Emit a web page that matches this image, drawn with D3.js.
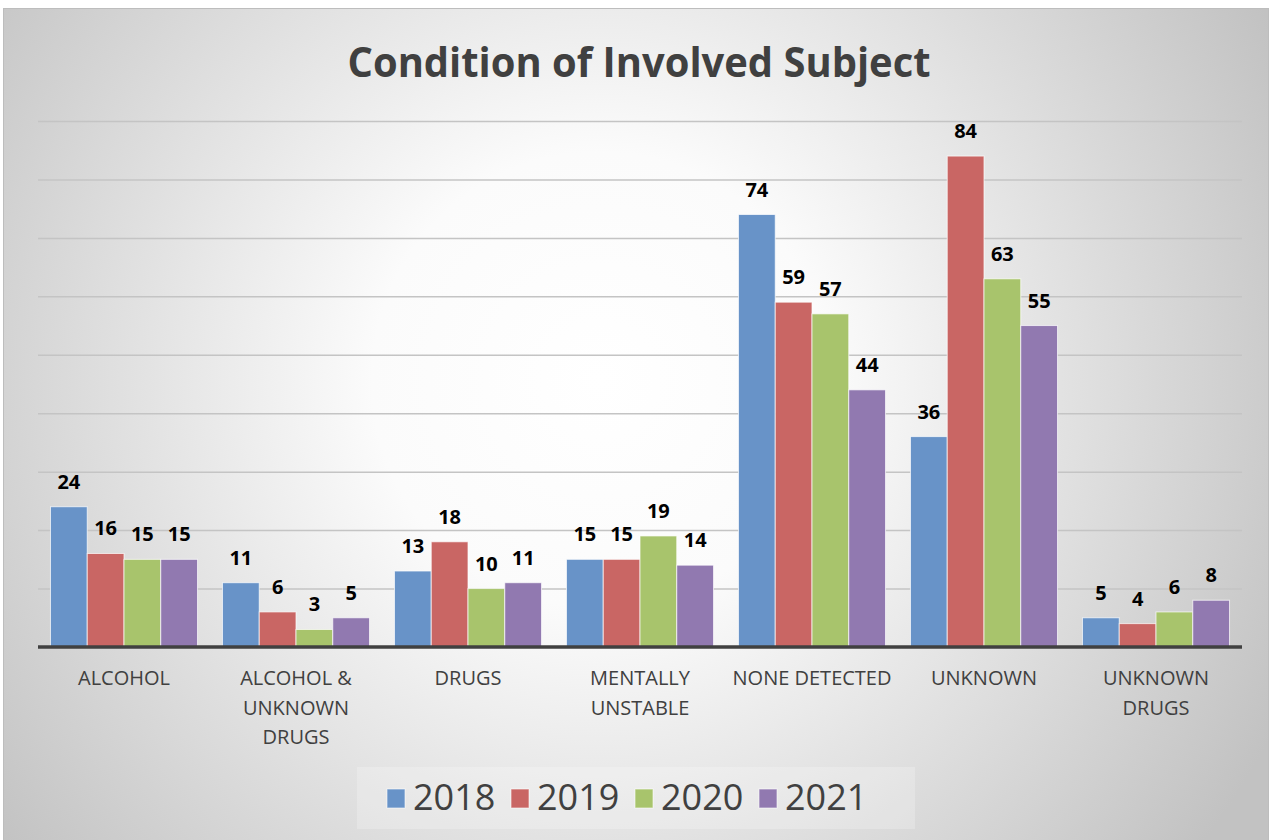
<!DOCTYPE html>
<html>
<head>
<meta charset="utf-8">
<script src="https://cdn.jsdelivr.net/npm/d3@7"></script>
<style>
html,body{margin:0;padding:0;background:#fff;}
svg{display:block;}
</style>
</head>
<body>
<svg id="chart" width="1271" height="840"></svg>
<script>
const categories = ["ALCOHOL", "ALCOHOL & UNKNOWN DRUGS", "DRUGS", "MENTALLY UNSTABLE", "NONE DETECTED", "UNKNOWN", "UNKNOWN DRUGS"];
const categoryLabels = ["ALCOHOL", "ALCOHOL &\nUNKNOWN\nDRUGS", "DRUGS", "MENTALLY\nUNSTABLE", "NONE DETECTED", "UNKNOWN", "UNKNOWN\nDRUGS"];
const seriesNames = ["2018", "2019", "2020", "2021"];
const values2018 = [24, 11, 13, 15, 74, 36, 5];
const values2019 = [16, 6, 18, 15, 59, 84, 4];
const values2020 = [15, 3, 10, 19, 57, 63, 6];
const values2021 = [15, 5, 11, 14, 44, 55, 8];
const gridTicks = [10, 20, 30, 40, 50, 60, 70, 80, 90];
const title = "Condition of Involved Subject";

const seriesValues = [values2018, values2019, values2020, values2021];
const colors = ["#6893c8", "#c96664", "#a8c46c", "#9179b0"];

const svg = d3.select("#chart");
const W = 1271, H = 840;

// background
const defs = svg.append("defs");
const rg = defs.append("radialGradient").attr("id", "bg")
  .attr("gradientUnits", "userSpaceOnUse")
  .attr("cx", 600).attr("cy", 380).attr("r", 760);
rg.append("stop").attr("offset", "0").attr("stop-color", "#ffffff");
rg.append("stop").attr("offset", "0.3").attr("stop-color", "#fbfbfb");
rg.append("stop").attr("offset", "1").attr("stop-color", "#c2c2c2");

svg.append("rect").attr("x", 3.5).attr("y", 8.5).attr("width", 1265).attr("height", 840)
  .attr("fill", "url(#bg)").attr("stroke", "#bdbdbd").attr("stroke-width", 1);

const margin = {left: 38, right: 29, top: 121, bottom: 193};
const plotW = W - margin.left - margin.right; // 1204
const baseY = 647;

const x0 = d3.scaleBand().domain(categories).range([margin.left, margin.left + plotW]).paddingInner(0.145).paddingOuter(0.0725);
const x1 = d3.scaleBand().domain(seriesNames).range([0, x0.bandwidth()]).padding(0);
const y = d3.scaleLinear().domain([0, 90]).range([baseY, 121]);

// gridlines
const grid = svg.append("g").attr("transform", `translate(${margin.left},0)`)
  .call(d3.axisLeft(y).tickValues(gridTicks).tickSize(-plotW).tickFormat(""));
grid.select(".domain").remove();
grid.selectAll("line").attr("stroke", "#c4c4c4").attr("stroke-width", 1.5);

// bars
const groups = svg.append("g").selectAll("g").data(categories).join("g")
  .attr("transform", d => `translate(${x0(d)},0)`);

groups.each(function(cat, ci) {
  const g = d3.select(this);
  const rows = seriesNames.map((s, si) => ({s, si, v: seriesValues[si][ci]}));
  g.selectAll("rect").data(rows).join("rect")
    .attr("x", d => x1(d.s))
    .attr("y", d => y(d.v))
    .attr("width", x1.bandwidth())
    .attr("height", d => baseY - y(d.v))
    .attr("fill", d => colors[d.si])
    .attr("stroke", "#ffffff").attr("stroke-opacity", 0.7).attr("stroke-width", 1);
  g.selectAll("text").data(rows).join("text")
    .attr("x", d => x1(d.s) + x1.bandwidth() / 2)
    .attr("y", d => y(d.v) - 18)
    .attr("text-anchor", "middle")
    .attr("font-family", "Open Sans, sans-serif")
    .attr("font-weight", "bold")
    .attr("font-size", 20)
    .attr("fill", "#000")
    .text(d => d.v);
});

// x axis
const xAxis = svg.append("g").attr("transform", `translate(0,${baseY})`)
  .call(d3.axisBottom(x0).tickSize(0).tickPadding(0).tickFormat(""));
xAxis.select(".domain").attr("d", `M${margin.left},0H${margin.left + plotW}`)
  .attr("stroke", "#404040").attr("stroke-width", 3.5);
xAxis.selectAll(".tick").each(function(d, i) {
  const t = d3.select(this).append("text")
    .attr("fill", "#404040")
    .attr("font-family", "Open Sans, sans-serif")
    .attr("font-size", 20)
    .attr("text-anchor", "middle");
  categoryLabels[i].split("\n").forEach((line, li) => {
    t.append("tspan").attr("x", 0).attr("y", 38 + li * 29.5).text(line);
  });
});

// title
svg.append("text").attr("x", 639).attr("y", 77)
  .attr("text-anchor", "middle")
  .attr("font-family", "Open Sans, sans-serif")
  .attr("font-weight", "bold")
  .attr("font-size", 42)
  .attr("fill", "#404040")
  .attr("textLength", 583).attr("lengthAdjust", "spacingAndGlyphs")
  .text(title);

// legend
svg.append("rect").attr("x", 357).attr("y", 767).attr("width", 558).attr("height", 62)
  .attr("fill", "#ffffff").attr("fill-opacity", 0.22);
const leg = svg.append("g").selectAll("g").data(seriesNames).join("g")
  .attr("transform", (d, i) => `translate(${387 + i * 124},0)`);
leg.append("rect").attr("x", 0).attr("y", 789).attr("width", 18).attr("height", 19)
  .attr("fill", (d, i) => colors[i]).attr("stroke", "#ffffff").attr("stroke-opacity", 0.6);
leg.append("text").attr("x", 26).attr("y", 810)
  .attr("font-family", "Open Sans, sans-serif")
  .attr("font-size", 36)
  .attr("fill", "#404040")
  .text(d => d);
</script>
</body>
</html>
